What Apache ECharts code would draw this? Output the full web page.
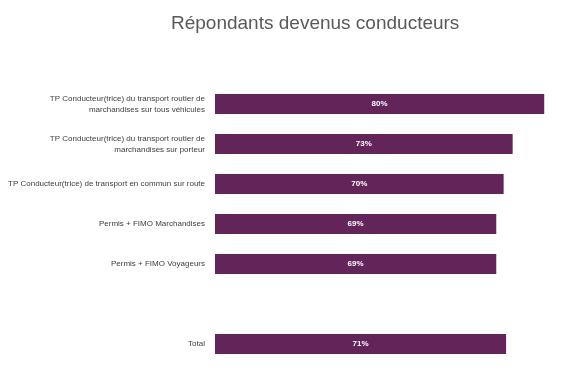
<!DOCTYPE html>
<html><head><meta charset="utf-8">
<script src="https://cdn.jsdelivr.net/npm/echarts@6/dist/echarts.min.js"></script>
<style>html,body{margin:0;padding:0;background:#fff}#c{width:577px;height:378px}</style>
</head><body><div id="c"></div>
<script>
const categories = [
  'TP Conducteur(trice) du transport routier de\nmarchandises sur tous véhicules',
  'TP Conducteur(trice) du transport routier de\nmarchandises sur porteur',
  'TP Conducteur(trice) de transport en commun sur route',
  'Permis + FIMO Marchandises',
  'Permis + FIMO Voyageurs',
  '',
  'Total'
];
const values = [80.3, 72.6, 70.4, 68.6, 68.6, null, 71.0];
const titleText = 'Répondants devenus conducteurs';

const chart = echarts.init(document.getElementById('c'));
chart.setOption({
  animation: false,
  title: {
    text: titleText,
    left: 166, top: 9,
    textStyle: { fontFamily: 'Liberation Sans, Arial, sans-serif', fontSize: 19, fontWeight: 'normal', color: '#595959' }
  },
  grid: { left: 215, top: 84, width: 348.5, height: 280 },
  xAxis: { type: 'value', min: 0, max: 85, show: false },
  yAxis: {
    type: 'category', data: categories, inverse: true,
    axisLine: { show: false }, axisTick: { show: false },
    axisLabel: { margin: 10, fontFamily: 'Liberation Sans, Arial, sans-serif', fontSize: 8, lineHeight: 11, color: '#404040', align: 'right' }
  },
  series: [{
    type: 'bar', data: values, barWidth: 20,
    itemStyle: { color: '#63245A' },
    label: {
      show: true, position: 'inside', color: '#fff', fontWeight: 'bold',
      fontFamily: 'Liberation Sans, Arial, sans-serif', fontSize: 8,
      formatter: p => Math.round(p.value) + '%'
    }
  }]
});
</script></body></html>
